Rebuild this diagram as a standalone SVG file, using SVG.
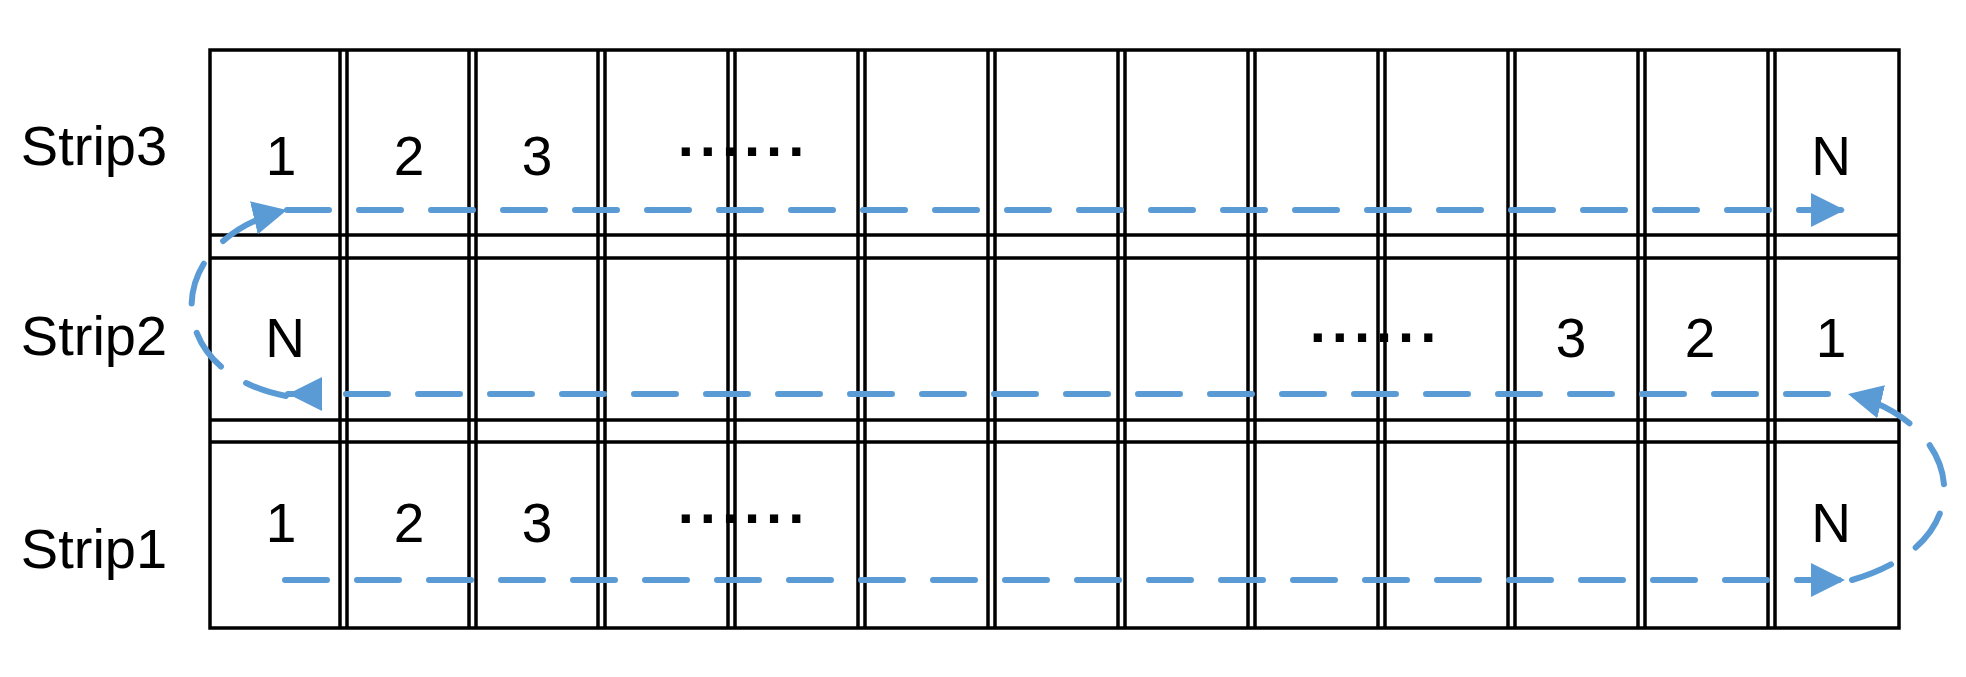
<svg xmlns="http://www.w3.org/2000/svg" width="1966" height="677" viewBox="0 0 1966 677">
<style>
.g{stroke:#000;stroke-width:3.5;fill:none}
.t{font-family:"Liberation Sans",Arial,sans-serif;font-size:55px;fill:#000;text-anchor:middle}
.l{font-family:"Liberation Sans",Arial,sans-serif;font-size:56px;fill:#000;text-anchor:middle}
.d{font-family:"Liberation Sans",Arial,sans-serif;font-size:58px;font-weight:bold;letter-spacing:6px;fill:#000;text-anchor:middle}
.c{stroke:#5B9BD5;stroke-width:6;fill:none;stroke-dasharray:42 30;stroke-linecap:round}
</style>
<defs>
<marker id="ah" markerUnits="userSpaceOnUse" markerWidth="40" markerHeight="40" refX="34" refY="17" orient="auto">
<path d="M0,0 L34,17 L0,34 Z" fill="#5B9BD5"/>
</marker>
</defs>
<g id="grid">
<rect class="g" x="210" y="50" width="1689" height="578"/>
<line class="g" x1="210" y1="235" x2="1899" y2="235"/>
<line class="g" x1="210" y1="258" x2="1899" y2="258"/>
<line class="g" x1="210" y1="420" x2="1899" y2="420"/>
<line class="g" x1="210" y1="442" x2="1899" y2="442"/>
<g id="cols">
<path class="g" d="M340,50V628M347,50V628M469,50V628M476,50V628M598,50V628M605,50V628M728,50V628M735,50V628M858,50V628M865,50V628M988,50V628M995,50V628M1118,50V628M1125,50V628M1248,50V628M1255,50V628M1378,50V628M1385,50V628M1508,50V628M1515,50V628M1638,50V628M1645,50V628M1768,50V628M1775,50V628"/>
</g>
</g>
<g id="labels">
<text class="l" x="94" y="165">Strip3</text>
<text class="l" x="94" y="355">Strip2</text>
<text class="l" x="94" y="568">Strip1</text>
</g>
<g id="strip3">
<text class="t" x="281" y="175">1</text>
<text class="t" x="409" y="175">2</text>
<text class="t" x="537" y="175">3</text>
<text class="d" x="744" y="156">......</text>
<text class="t" x="1831" y="175">N</text>
</g>
<g id="strip2">
<text class="t" x="285" y="357">N</text>
<text class="d" x="1376" y="342">......</text>
<text class="t" x="1571" y="357">3</text>
<text class="t" x="1700" y="357">2</text>
<text class="t" x="1831" y="357">1</text>
</g>
<g id="strip1">
<text class="t" x="281" y="542">1</text>
<text class="t" x="409" y="542">2</text>
<text class="t" x="537" y="542">3</text>
<text class="d" x="744" y="523">......</text>
<text class="t" x="1831" y="542">N</text>
</g>
<g id="connectors">
<line class="c" x1="285" y1="580" x2="1845" y2="580" marker-end="url(#ah)"/>
<path class="c" d="M1852,580 C1990,540 1960,420 1848,394" marker-end="url(#ah)"/>
<line class="c" x1="1828" y1="394" x2="288" y2="394" marker-end="url(#ah)"/>
<path class="c" d="M286,396 C160,372 160,240 287,210" marker-end="url(#ah)"/>
<line class="c" x1="287" y1="210" x2="1845" y2="210" marker-end="url(#ah)"/>
</g>
</svg>
